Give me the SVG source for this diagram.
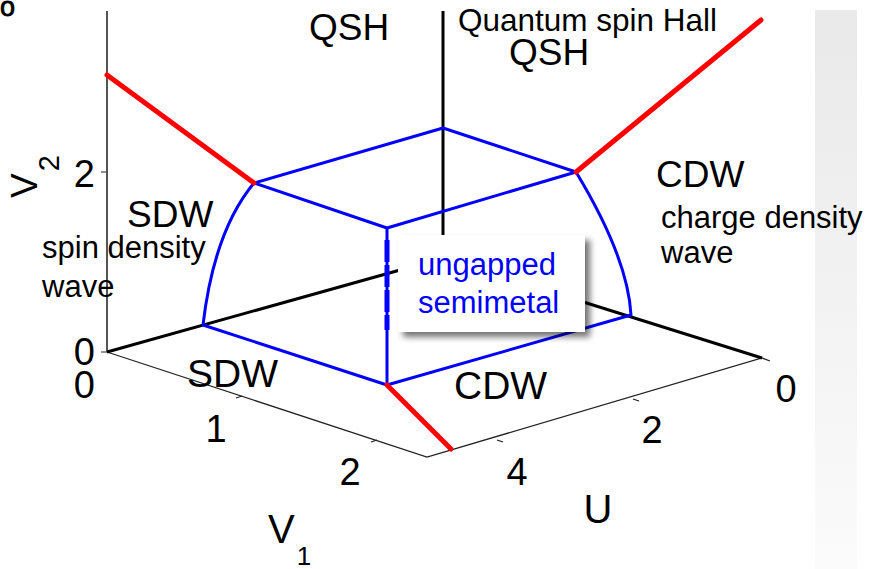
<svg xmlns="http://www.w3.org/2000/svg" width="871" height="569" viewBox="0 0 871 569">
<style>
text{font-family:"Liberation Sans",Arial,sans-serif;fill:#000}
.blue{stroke:#0000ff;stroke-width:3;fill:none;stroke-linejoin:round}
.red{stroke:#ff0000;stroke-width:5;fill:none;stroke-linecap:round}
.blk{stroke:#000;stroke-width:3;fill:none}
.thin{stroke:#222;stroke-width:1.3;fill:none}
.tick{font-size:38px}
.lab{font-size:37px}
.ann{font-size:31px}
</style>
<defs>
<linearGradient id="band" x1="0" y1="0" x2="0" y2="1">
<stop offset="0" stop-color="#e9e9e9"/>
<stop offset="1" stop-color="#fbfbfb"/>
</linearGradient>
<filter id="sh" x="-10%" y="-10%" width="130%" height="130%">
<feDropShadow dx="5" dy="5" stdDeviation="3" flood-color="#000" flood-opacity="0.55"/>
</filter>
</defs>
<rect width="871" height="569" fill="#fff"/>
<rect x="815" y="10" width="42" height="559" fill="url(#band)"/>
<text x="0" y="16" style="font-size:27px;stroke:#000;stroke-width:0.8">o</text>

<g id="axes">
<line x1="107" y1="11" x2="107" y2="352" stroke="#555" stroke-width="2"/>
<line x1="101" y1="172" x2="107" y2="172" stroke="#555" stroke-width="1.3"/>
<line x1="101" y1="352" x2="107" y2="352" stroke="#555" stroke-width="1.3"/>
<polyline class="thin" points="107,352 427,457 762,358 770,361"/>
<path class="thin" d="M236,398 l6,-2 M371,442 l6,-2 M497,440 l6,2 M633,399 l6,2"/>
</g>

<g id="connectors">
<line class="blk" x1="443" y1="11" x2="443" y2="258"/>
<line class="blk" x1="107" y1="352" x2="443" y2="258"/>
<line class="blk" x1="443" y1="258" x2="762" y2="358"/>
<path class="blue" d="M254,183 L443,128 L576,172 L387,228 Z"/>
<path class="blue" d="M254,183 Q214,231 203,325 L387,385 L631,315 Q628,258 576,172"/>
<line class="blue" x1="387" y1="228" x2="387" y2="385"/>
<line x1="387" y1="240" x2="387" y2="330" stroke="#0000ff" stroke-width="5" stroke-dasharray="22,3"/>
<line class="red" x1="107" y1="75" x2="254" y2="183"/>
<line class="red" x1="576" y1="172" x2="761" y2="20"/>
<line class="red" x1="387" y1="385" x2="451" y2="449"/>
</g>

<g id="ticklabels" class="tick">
<text x="95" y="187" text-anchor="end">2</text>
<text x="95" y="365" text-anchor="end">0</text>
<text x="95" y="398" text-anchor="end">0</text>
<text x="216" y="442" text-anchor="middle">1</text>
<text x="350" y="485" text-anchor="middle">2</text>
<text x="517" y="485" text-anchor="middle">4</text>
<text x="652" y="443" text-anchor="middle">2</text>
<text x="786" y="402" text-anchor="middle">0</text>
</g>

<g id="axislabels">
<text transform="translate(37,198) rotate(-90)" style="font-size:37px">V<tspan dx="2" dy="22" style="font-size:29px">2</tspan></text>
<text x="268" y="543" style="font-size:40px">V<tspan dx="2" dy="22" style="font-size:26px">1</tspan></text>
<text x="598" y="523" text-anchor="middle" style="font-size:40px">U</text>
</g>

<g id="regions">
<text class="lab" x="309" y="40">QSH</text>
<text class="lab" x="509" y="65">QSH</text>
<text x="458" y="31" style="font-size:31.5px">Quantum spin Hall</text>
<text class="lab" x="656" y="187">CDW</text>
<text class="ann" x="661" y="228">charge density</text>
<text class="ann" x="661" y="263">wave</text>
<text class="lab" x="127" y="227">SDW</text>
<text class="ann" x="42" y="258">spin density</text>
<text class="ann" x="42" y="297">wave</text>
<text x="187" y="387" style="font-size:39px">SDW</text>
<text x="454" y="399" style="font-size:39px">CDW</text>
</g>

<g id="semimetal">
<rect x="398" y="235" width="187" height="97" fill="#fff" filter="url(#sh)"/>
<text x="418" y="275" style="font-size:31px;fill:#0000ff">ungapped</text>
<text x="418" y="313" style="font-size:31px;fill:#0000ff">semimetal</text>
</g>
</svg>
